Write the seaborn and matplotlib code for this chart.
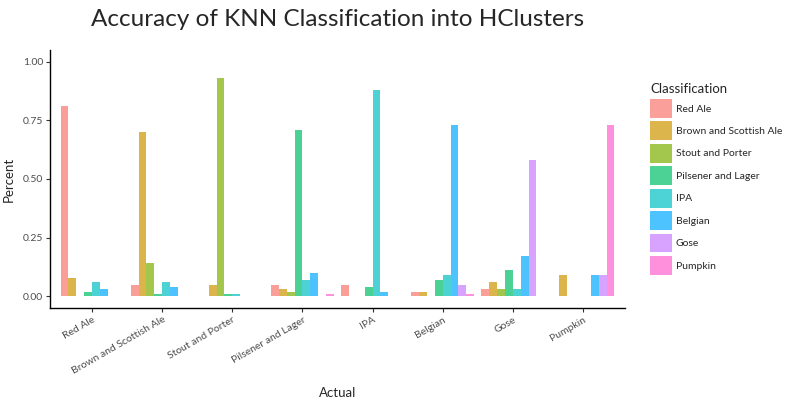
import pandas as pd
import seaborn as sns
import matplotlib.pyplot as plt
from matplotlib.patches import Patch
from matplotlib.colors import to_rgb

# Beer styles (actual and predicted share the same set)
styles = ['Red Ale', 'Brown and Scottish Ale', 'Stout and Porter', 'Pilsener and Lager',
          'IPA', 'Belgian', 'Gose', 'Pumpkin']

# share of each actual style classified as each style (order follows `styles`)
red_ale = [0.81, 0.08, 0.00, 0.02, 0.06, 0.03, 0.00, 0.00]
brown_scottish = [0.05, 0.70, 0.14, 0.01, 0.06, 0.04, 0.00, 0.00]
stout_porter = [0.00, 0.05, 0.93, 0.01, 0.01, 0.00, 0.00, 0.00]
pilsener_lager = [0.05, 0.03, 0.02, 0.71, 0.07, 0.10, 0.00, 0.01]
ipa = [0.05, 0.00, 0.00, 0.04, 0.88, 0.02, 0.00, 0.00]
belgian = [0.02, 0.02, 0.00, 0.07, 0.09, 0.73, 0.05, 0.01]
gose = [0.03, 0.06, 0.03, 0.11, 0.03, 0.17, 0.58, 0.00]
pumpkin = [0.00, 0.09, 0.00, 0.00, 0.00, 0.09, 0.09, 0.73]

# ggplot default hue palette
palette = ['#F8766D', '#CD9600', '#7CAE00', '#00BE67', '#00BFC4', '#00A9FF', '#C77CFF', '#FF61CC']

rows = []
for actual, vals in zip(styles, [red_ale, brown_scottish, stout_porter, pilsener_lager,
                                 ipa, belgian, gose, pumpkin]):
    for cls, v in zip(styles, vals):
        rows.append({'Actual': actual, 'Classification': cls, 'Percent': v})
df = pd.DataFrame(rows)

sns.set_style('white')
plt.rcParams['font.family'] = ['Lato', 'DejaVu Sans']

fig = plt.figure(figsize=(8, 4), dpi=100)
ax = fig.add_axes([50 / 800, 1 - 308 / 400, 575 / 800, 258 / 400])

sns.barplot(data=df, x='Actual', y='Percent', hue='Classification', order=styles,
            hue_order=styles, palette=palette, saturation=1, width=0.9, alpha=0.7,
            linewidth=0, legend=False, errorbar=None, ax=ax)

ax.set_xlim(-0.6, len(styles) - 0.4)
ax.set_ylim(-0.05, 1.05)
ax.set_yticks([0, 0.25, 0.5, 0.75, 1.0])
ax.set_yticklabels(['0.00', '0.25', '0.50', '0.75', '1.00'])
ax.set_xticks(range(len(styles)))
ax.set_xticklabels(styles, rotation=30, ha='right', rotation_mode='anchor')
ax.tick_params(axis='both', labelsize=7.5, labelcolor='#4D4D4D', color='#333333',
               length=3, width=0.8, bottom=True, left=True, pad=2)

for s in ['top', 'right']:
    ax.spines[s].set_visible(False)
for s in ['left', 'bottom']:
    ax.spines[s].set_color('black')
    ax.spines[s].set_linewidth(1.0)

ax.set_xlabel('Actual', fontsize=9.5, labelpad=8)
ax.set_ylabel('Percent', fontsize=9.5, labelpad=6)
ax.set_title('Accuracy of KNN Classification into HClusters', fontsize=17.5, pad=17)

# legend with alpha-blended keys
def blend(c, a=0.7):
    r, g, b = to_rgb(c)
    return (a * r + 1 - a, a * g + 1 - a, a * b + 1 - a)

handles = [Patch(facecolor=blend(c), edgecolor='none', label=s) for c, s in zip(palette, styles)]
leg = fig.legend(handles=handles, title='Classification', loc='upper left',
                 bbox_to_anchor=(643 / 800, 1 - 76 / 400), frameon=False, fontsize=7.5,
                 title_fontsize=9.5, handlelength=2.1, handleheight=2.4,
                 labelspacing=0.35, handletextpad=0.35, borderpad=0.2, alignment='left')

fig.savefig('out.png', dpi=100)
